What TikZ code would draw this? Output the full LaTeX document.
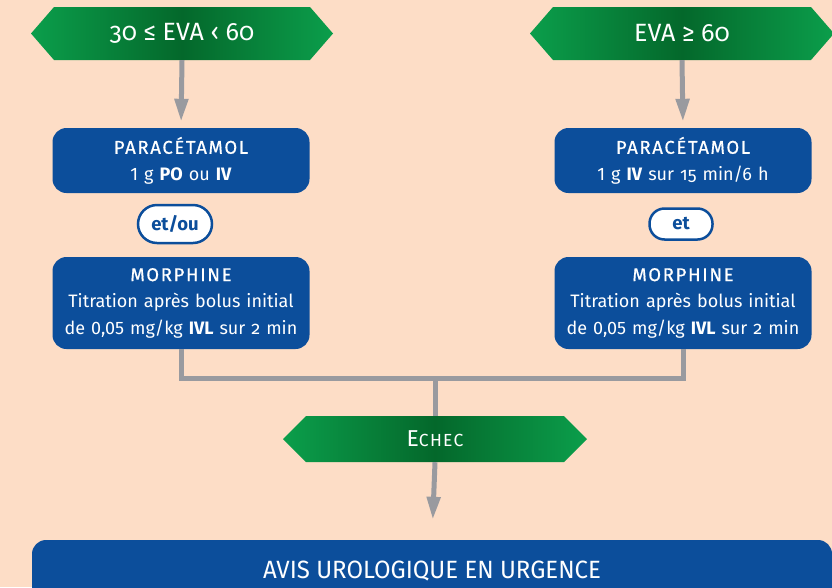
\documentclass[tikz,border=0pt]{standalone}
\usepackage{fontspec}
\setmainfont{Fira Sans}
\usetikzlibrary{arrows.meta}
\definecolor{bg}{HTML}{FDDDC6}
\definecolor{boxblue}{HTML}{0C4E9B}
\definecolor{gedge}{HTML}{0B9E4B}
\definecolor{gmid}{HTML}{04682B}
\definecolor{linegray}{HTML}{999A9F}
\newcommand\onum[1]{{\addfontfeatures{Numbers=OldStyle}#1}}
\newcommand\hd[1]{{\fontsize{18.5}{26.5}\selectfont\addfontfeatures{LetterSpace=9,FakeBold=0.7}#1}}
\newcommand\hexshape[4]{% left tip x, right tip x, top y, bottom y
  \shade[left color=gedge,right color=gedge,middle color=gmid]
    (#1,{(#3+#4)/2}) -- ({#1+23},#3) -- ({#2-23},#3) -- (#2,{(#3+#4)/2})
    -- ({#2-23},#4) -- ({#1+23},#4) -- cycle;}
\begin{document}
\begin{tikzpicture}[x=1pt,y=-1pt,
  hextext/.style={text=white,font=\fontsize{25}{29}\selectfont,inner sep=0pt,minimum height=#1},
  hextext/.default=53,
  bluebox/.style={fill=boxblue,rounded corners=14pt,text=white,align=center,
    font=\fontsize{18}{26.5}\selectfont,inner sep=0pt,minimum width=257,text width=255},
  pill/.style={fill=white,draw=boxblue,line width=2.5pt,rounded corners=15pt,text=boxblue,
    font=\fontsize{18.5}{22}\selectfont\bfseries,inner sep=0pt},
  conn/.style={draw=linegray,line width=5pt},
  arr/.style={-{Triangle[length=23pt,width=13pt]}}]
\fill[bg] (0,0) rectangle (832,587);
\useasboundingbox (0,0) rectangle (832,587);

% top hexagons
\hexshape{31}{333}{7}{60}
\node[hextext] (h1) at (182,33.5) {\onum{30} ≤ EVA ‹ \onum{60}};
\hexshape{530}{834}{7}{60}
\node[hextext] (h2) at (682,33.5) {EVA ≥ \onum{60}};

% boxes
\node[bluebox,minimum height=65] (p1) at (181,160.5)
  {\hd{PARACÉTAMOL}\\1 g \textbf{PO} ou \textbf{IV}};
\node[pill,minimum width=74,minimum height=38,rounded corners=19pt] (eo) at (175,224) {et/ou};
\node[bluebox,minimum height=92] (m1) at (181,303)
  {\hd{MORPHINE}\\Titration après bolus initial\\de 0,05 mg/kg \textbf{IVL} sur \onum{2} min};

\node[bluebox,minimum height=65] (p2) at (683,160.5)
  {\hd{PARACÉTAMOL}\\1 g \textbf{IV} sur \onum{15} min/6 h};
\node[pill,minimum width=63,minimum height=31] (et) at (681,224) {et};
\node[bluebox,minimum height=92] (m2) at (683,303)
  {\hd{MORPHINE}\\Titration après bolus initial\\de 0,05 mg/kg \textbf{IVL} sur \onum{2} min};

% echec
\hexshape{283}{587}{416}{462}
\node[hextext=46] (ec) at (435,439)
  {{\fontsize{23}{26}\selectfont E}{\fontsize{17.5}{20}\selectfont\addfontfeatures{LetterSpace=7}CHEC}};

% bottom box
\node[fill=boxblue,rounded corners=14pt,minimum width=800,minimum height=62,inner sep=0pt,
  text=white,font=\fontsize{25}{29}\selectfont] (av) at (432,571)
  {\scalebox{0.96}[1]{AVIS UROLOGIQUE EN URGENCE}};

% connectors
\coordinate (j) at (435,378);
\draw[conn,arr,shorten >=6pt] (h1.south) -- (p1.north);
\draw[conn,arr,shorten >=6pt] (h2.south) -- (p2.north);
\draw[conn] (m1.south) |- (j) -| (m2.south);
\draw[conn] (j) -- (ec.north);
\draw[conn,arr,shorten >=20pt] (ec.south) -- (av.north);
\end{tikzpicture}
\end{document}
